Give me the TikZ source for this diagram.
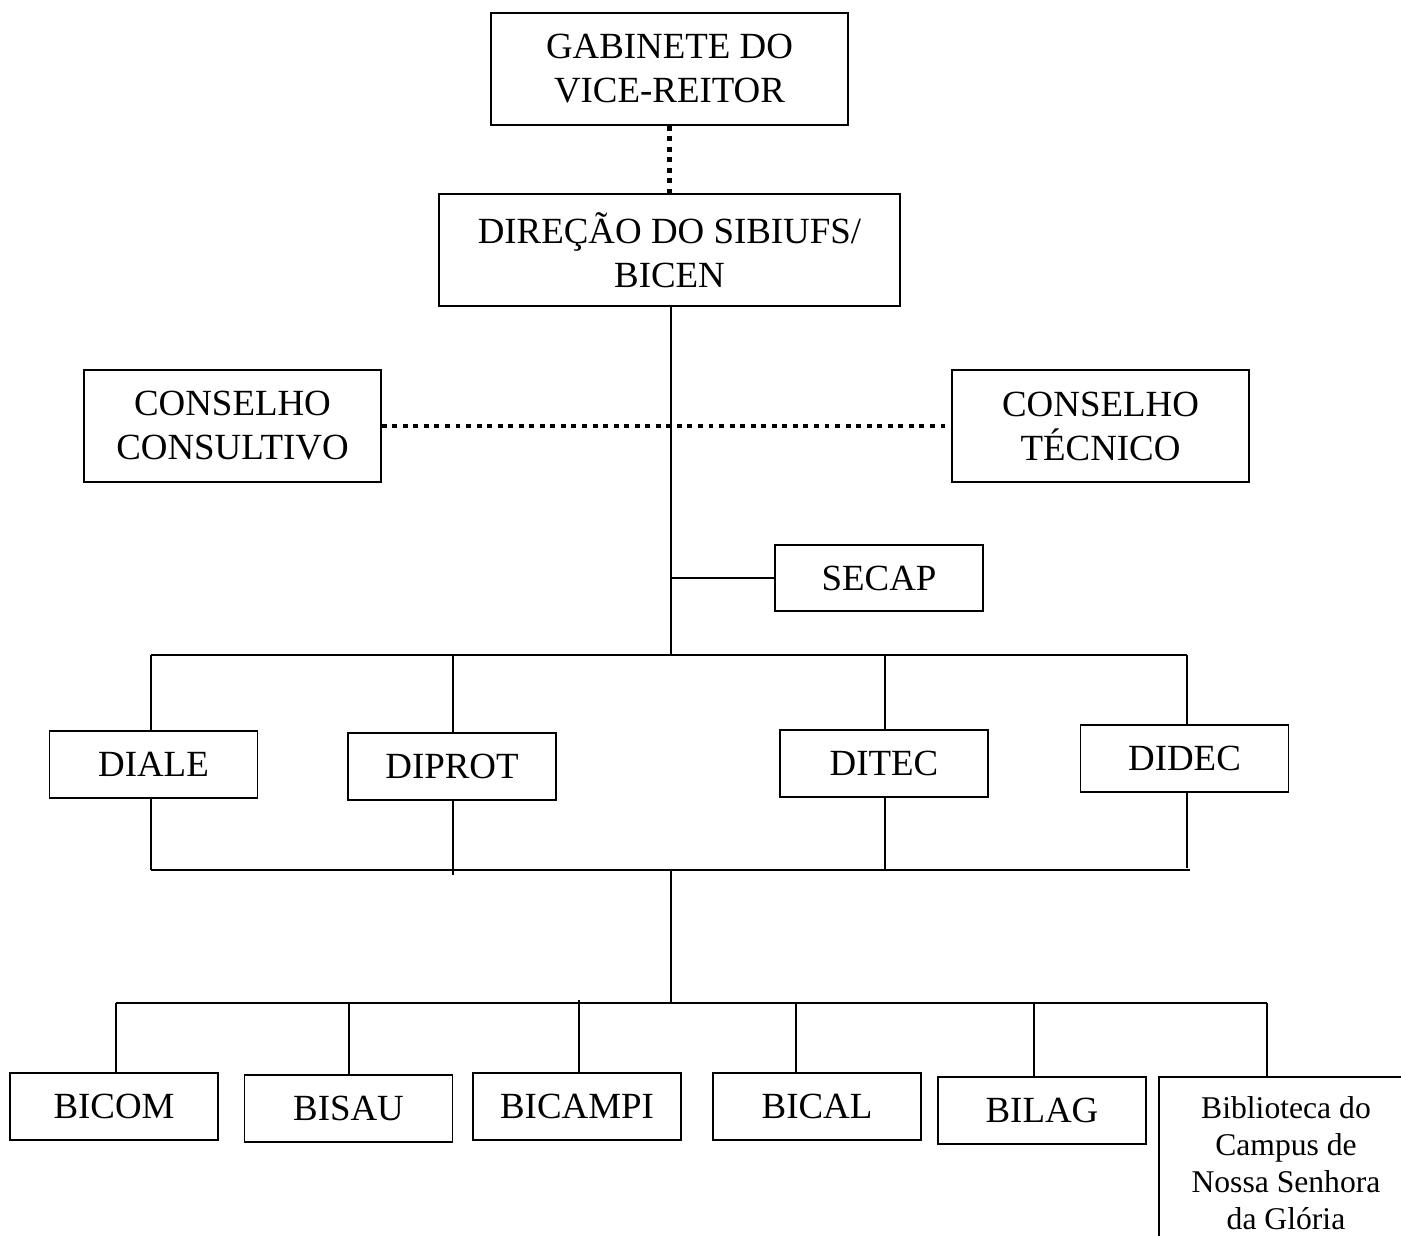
\documentclass[tikz,border=0pt]{standalone}
\usepackage{fontspec}
\setmainfont{Liberation Serif}
\usepackage{tikz}
\usetikzlibrary{positioning,calc}

\tikzset{
  caixa/.style={draw, line width=0.8pt, align=center, inner sep=0pt,
    font=\fontsize{21}{25}\selectfont},
  caixad/.style={caixa, minimum width=4.16cm, minimum height=1.34cm},
  caixab/.style={caixa, minimum width=4.16cm, minimum height=1.34cm},
  liga/.style={line width=1.1pt},
  pontilhado/.style={line width=2.8pt, dash pattern=on 2.8pt off 3.2pt}
}

\begin{document}
\begin{tikzpicture}
  \useasboundingbox (0,0) rectangle (28.02,-24.72);
  \clip (0,0) rectangle (28.02,-24.72);

  % topo
  \node[caixa, minimum width=7.14cm, minimum height=2.24cm] (gab) at (13.39,-1.38) {GABINETE DO\\VICE-REITOR};
  \node[caixa, minimum width=9.22cm, minimum height=2.24cm] (dir) at (13.39,-5.0) {DIREÇÃO DO SIBIUFS/\\BICEN};
  \node[caixa, minimum width=5.94cm, minimum height=2.24cm] (ccons) at (4.65,-8.52) {CONSELHO\\CONSULTIVO};
  \node[caixa, minimum width=5.94cm, minimum height=2.24cm] (ctec) at (22.01,-8.52) {CONSELHO\\TÉCNICO};
  \node[caixa, minimum width=4.16cm, minimum height=1.32cm] (secap) at (17.58,-11.56) {SECAP};

  % divisoes
  \node[caixad] (diale) at (3.07,-15.29) {DIALE};
  \node[caixad] (diprot) at (9.04,-15.33) {DIPROT};
  \node[caixad] (ditec) at (17.68,-15.27) {DITEC};
  \node[caixad] (didec) at (23.69,-15.17) {DIDEC};

  % bibliotecas
  \node[caixab] (bicom) at (2.28,-22.13) {BICOM};
  \node[caixab] (bisau) at (6.97,-22.17) {BISAU};
  \node[caixab] (bicampi) at (11.54,-22.13) {BICAMPI};
  \node[caixab] (bical) at (16.34,-22.13) {BICAL};
  \node[caixab] (bilag) at (20.84,-22.21) {BILAG};
  \node[caixa, minimum width=5.08cm, minimum height=3.44cm,
    font=\fontsize{18}{21}\selectfont] (bib) at (25.72,-23.26)
    {Biblioteca do\\Campus de\\Nossa Senhora\\da Glória};

  % pontos de juncao
  \coordinate (j1) at (13.42,-13.1);
  \coordinate (j2) at (13.42,-17.4);
  \coordinate (j3) at (13.42,-20.06);

  % ligacoes pontilhadas
  \draw[pontilhado] (gab.south) -- (dir.north);
  \draw[pontilhado] (ccons.east) -- (ctec.west);

  % tronco
  \draw[liga] (dir.south -| j1) -- (j1);
  \draw[liga] (secap.west -| j1) -- (secap.west);
  \draw[liga] (3.02,-13.1) -- (23.74,-13.1);
  \draw[liga] (3.02,-17.4) -- (23.8,-17.4);
  \draw[liga] (j2) -- (j3);
  \draw[liga] (2.32,-20.06) -- (25.34,-20.06);

  % divisoes
  \draw[liga] (diale.north -| 3.02,0) -- (3.02,-13.1);
  \draw[liga] (diprot.north -| 9.06,0) -- (9.06,-13.1);
  \draw[liga] (ditec.north -| 17.7,0) -- (17.7,-13.1);
  \draw[liga] (didec.north -| 23.74,0) -- (23.74,-13.1);
  \draw[liga] (diale.south -| 3.02,0) -- (3.02,-17.4);
  \draw[liga] (diprot.south -| 9.06,0) -- (9.06,-17.5);
  \draw[liga] (ditec.south -| 17.7,0) -- (17.7,-17.4);
  \draw[liga] (didec.south -| 23.74,0) -- (23.74,-17.36);

  % bibliotecas
  \draw[liga] (bicom.north -| 2.32,0) -- (2.32,-20.06);
  \draw[liga] (bisau.north -| 6.98,0) -- (6.98,-20.06);
  \draw[liga] (bicampi.north -| 11.58,0) -- (11.58,-20.0);
  \draw[liga] (bical.north -| 15.92,0) -- (15.92,-20.06);
  \draw[liga] (bilag.north -| 20.68,0) -- (20.68,-20.06);
  \draw[liga] (bib.north -| 25.34,0) -- (25.34,-20.06);
\end{tikzpicture}
\end{document}
